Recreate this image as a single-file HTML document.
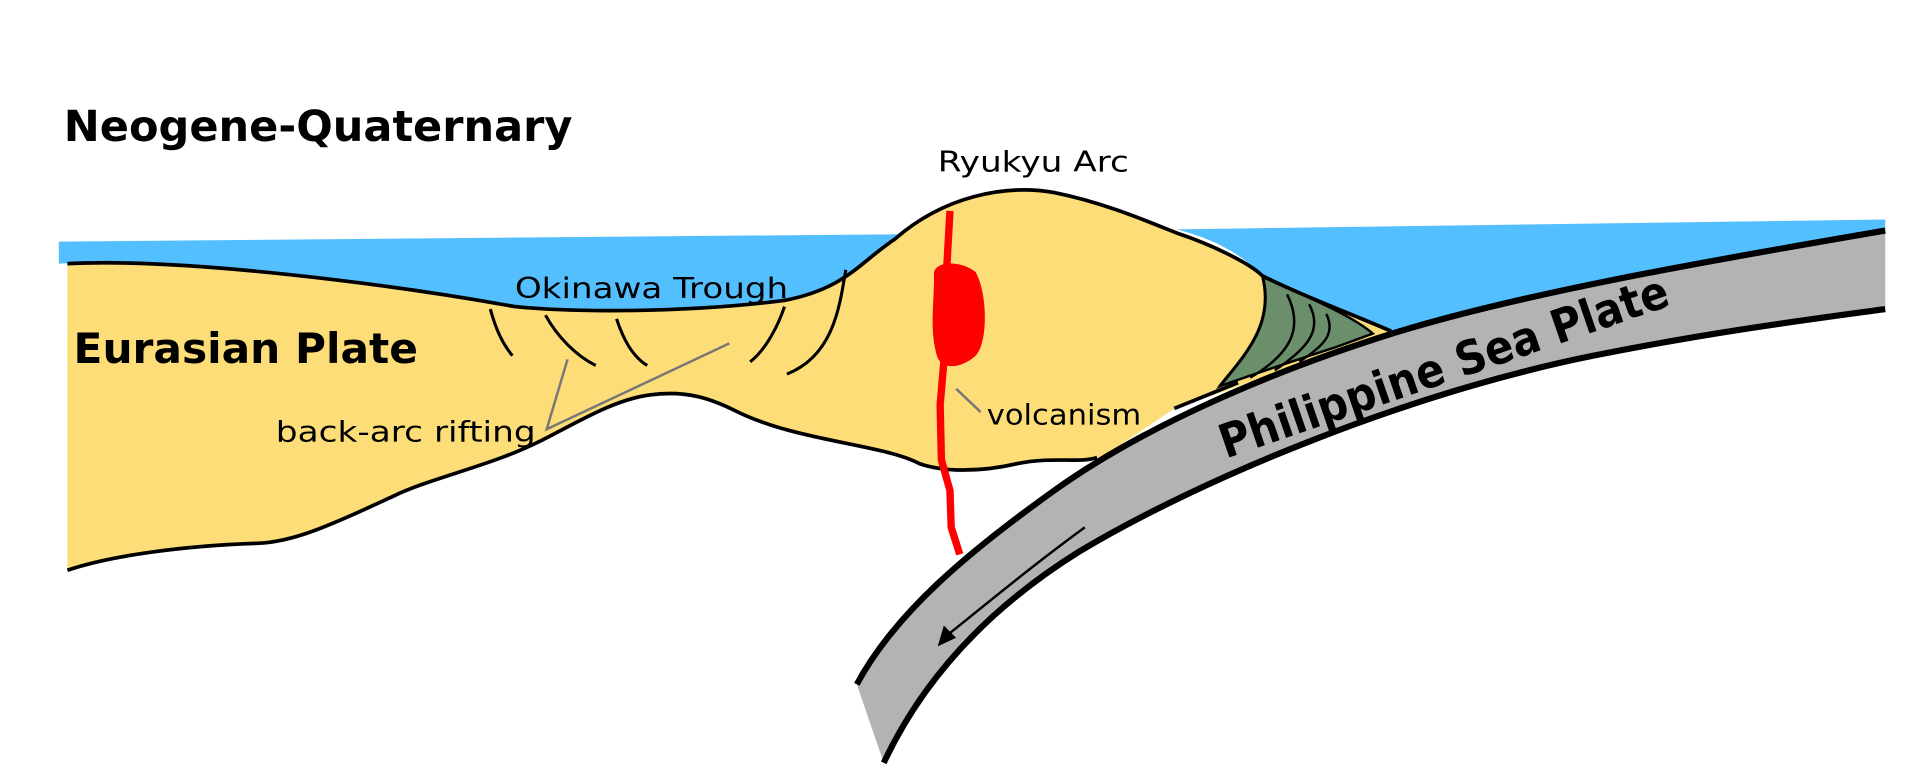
<!DOCTYPE html>
<html><head><meta charset="utf-8"><style>
html,body{margin:0;padding:0;background:#fff;width:1922px;height:780px;overflow:hidden}
svg{display:block}
text{font-family:"DejaVu Sans","Liberation Sans",sans-serif}
</style></head><body>
<svg width="1922" height="780" viewBox="0 0 1568 636" preserveAspectRatio="none" xmlns="http://www.w3.org/2000/svg">
<path d="M48,197 L733,191 C715,205 690,235 640,245 C560,255 470,255 420,250 C320,232 150,210 48,215 Z" fill="#54bfff"/>
<path d="M960,187 L1538,179 L1538,190 C1380,215 1220,245 1135,270 C1100,255 1060,240 1030,225 C1010,205 990,195 960,187 Z" fill="#54bfff"/>
<path d="M55,215 C150,210 320,232 420,250 C470,255 560,255 640,245 C690,235 700,215 730,195 C770,160 820,150 860,157 C900,165 935,180 960,190 C990,200 1020,215 1030,225 C1060,240 1100,255 1135,270 L1120,276 C1060,295 1000,320 960,332 L900,372 C880,378 860,372 830,378 C800,385 770,385 750,378 C720,362 650,360 600,335 C580,325 560,318 530,322 C500,326 470,345 440,360 C400,380 350,390 320,405 C270,428 240,442 210,443 C150,445 90,453 55,465 Z" fill="#fddd78"/>
<path d="M1030,225 C1060,240 1100,255 1120,272 L1090,283 C1050,296 1020,306 995,315 C1015,290 1040,265 1030,225 Z" fill="#6b8f6b" stroke="#000" stroke-width="2"/>
<path d="M1050,240 C1065,270 1050,290 1020,308" fill="none" stroke="#000" stroke-width="2"/>
<path d="M1068,248 C1080,270 1065,285 1040,302" fill="none" stroke="#000" stroke-width="2"/>
<path d="M1082,256 C1090,272 1080,282 1060,295" fill="none" stroke="#000" stroke-width="2"/>
<path d="M1538,188 C1380,215 1240,240 1139,271 C1030,305 930,350 860,400 C790,450 730,500 699,558 L721,622 C750,560 800,500 880,450 C980,390 1150,320 1300,290 C1400,270 1480,260 1538,252 Z" fill="#b3b3b3"/>
<path d="M1538,188 C1380,215 1240,240 1139,271 C1030,305 930,350 860,400 C790,450 730,500 699,558" fill="none" stroke="#000" stroke-width="5"/>
<path d="M721,622 C750,560 800,500 880,450 C980,390 1150,320 1300,290 C1400,270 1480,260 1538,252" fill="none" stroke="#000" stroke-width="5"/>
<path d="M55,215 C150,210 320,232 420,250 C470,255 560,255 640,245 C690,235 700,215 730,195 C770,160 820,150 860,157 C900,165 935,180 960,190 C990,200 1020,215 1030,225 C1060,240 1100,255 1135,270" fill="none" stroke="#000" stroke-width="3"/>
<path d="M895,373 C880,378 860,372 830,378 C800,385 770,385 750,378 C720,362 650,360 600,335 C580,325 560,318 530,322 C500,326 470,345 440,360 C400,380 350,390 320,405 C270,428 240,442 210,443 C150,445 90,453 55,465" fill="none" stroke="#000" stroke-width="3"/>
<path d="M1030,225 C1040,265 1015,290 995,315" fill="none" stroke="#000" stroke-width="2.5"/>
<path d="M958,333 L1010,312" stroke="#000" stroke-width="3"/>
<g fill="none" stroke="#000" stroke-width="2.5">
<path d="M400,252 C405,270 410,280 418,290"/>
<path d="M445,257 C455,275 470,290 486,298"/>
<path d="M503,260 C508,275 515,290 528,298"/>
<path d="M640,250 C635,265 625,285 612,295"/>
<path d="M690,220 C685,250 680,290 642,305"/>
</g>
<g stroke="#777" stroke-width="2" fill="none">
<path d="M463,293 L446,350 L595,280"/>
<path d="M780,317 L800,336"/>
</g>
<path d="M775,172 L772,225 M770,295 L767,330 L768,375 L775,400 L776,430 L783,452" fill="none" stroke="#f00" stroke-width="6"/>
<path d="M762,225 C760,212 785,212 796,222 C806,240 806,280 796,290 C785,300 770,302 765,292 C758,270 762,250 762,225 Z" fill="#f00"/>
<path d="M885,430 C830,470 790,505 770,520" fill="none" stroke="#000" stroke-width="2"/>
<path d="M765,527 L770,510 L780,520 Z" fill="#000"/>
<text x="52" y="115" font-size="35" font-weight="bold" textLength="415" lengthAdjust="spacingAndGlyphs">Neogene-Quaternary</text>
<text x="765" y="140" font-size="23" textLength="156" lengthAdjust="spacingAndGlyphs">Ryukyu Arc</text>
<text x="420" y="243" font-size="23" textLength="223" lengthAdjust="spacingAndGlyphs">Okinawa Trough</text>
<text x="60" y="296" font-size="34" font-weight="bold" textLength="281" lengthAdjust="spacingAndGlyphs">Eurasian Plate</text>
<text x="225" y="360" font-size="23" textLength="212" lengthAdjust="spacingAndGlyphs">back-arc rifting</text>
<text x="805" y="346" font-size="23" textLength="126" lengthAdjust="spacingAndGlyphs">volcanism</text>
<text x="0" y="0" font-size="38" font-weight="bold" textLength="385" lengthAdjust="spacingAndGlyphs" transform="translate(1000,374) rotate(-19)">Philippine Sea Plate</text>
</svg>
</body></html>
